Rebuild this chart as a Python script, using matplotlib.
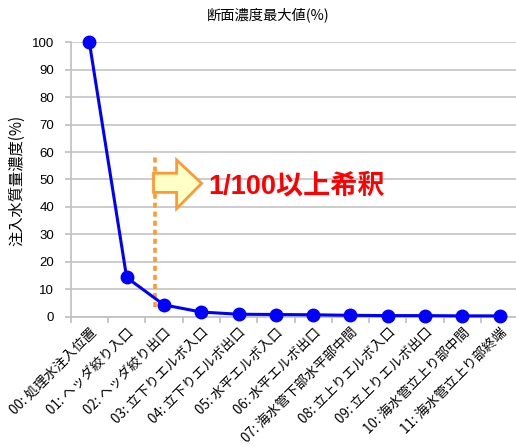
import matplotlib
matplotlib.use("Agg")
import matplotlib.pyplot as plt
from matplotlib.patches import Polygon
from matplotlib.ticker import FixedLocator

plt.rcParams['font.family'] = ['Noto Sans CJK JP', 'DejaVu Sans']

categories = ["00: 処理水注入位置", "01: ヘッダ絞り入口", "02: ヘッダ絞り出口",
              "03: 立下りエルボ入口", "04: 立下りエルボ出口", "05: 水平エルボ入口",
              "06: 水平エルボ出口", "07: 海水管下部水平部中間", "08: 立上りエルボ入口",
              "09: 立上りエルボ出口", "10: 海水管立上り部中間", "11: 海水管立上り部終端"]
values = [100, 14.3, 4.3, 1.7, 0.9, 0.8, 0.7, 0.5, 0.4, 0.4, 0.3, 0.3]
yticks = [0, 10, 20, 30, 40, 50, 60, 70, 80, 90, 100]
title = "断面濃度最大値(%)"
ylabel = "注入水質量濃度(%)"
note = "1/100以上希釈"

W, H = 516, 446
fig = plt.figure(figsize=(W/100, H/100), dpi=100)
left, bottom, top = 70.7, 316.7, 42.3
ax = fig.add_axes([left/W, (H-bottom)/H, (W-left)/W, (bottom-top)/H])

x = list(range(len(values)))
ax.plot(x, values, color='#0000FF', lw=2.2, marker='o', markersize=9,
        clip_on=False, zorder=5)

ax.set_xlim(-0.5, -0.5 + (W-left)/37.3)
ax.set_ylim(0, 100)
ax.set_yticks(yticks)
ax.set_yticklabels([str(v) for v in yticks], fontsize=9.5, family=['Liberation Sans', 'DejaVu Sans'])
ax.grid(axis='y', color='#C8C8C8', lw=1.3)
ax.set_axisbelow(True)

ax.set_xticks(x)
ax.set_xticklabels(categories, rotation=45, ha='right', rotation_mode='anchor', fontsize=9.7)
ax.xaxis.set_minor_locator(FixedLocator([i - 0.5 for i in range(len(values) + 1)]))
ax.tick_params(axis='x', which='major', length=0, pad=6)
ax.tick_params(axis='x', which='minor', length=4, color='#BFBFBF', width=1.2)
ax.tick_params(axis='y', length=4, color='#BFBFBF', width=1.2, pad=8)

for s in ['top', 'right']:
    ax.spines[s].set_visible(False)
for s in ['left', 'bottom']:
    ax.spines[s].set_color('#BFBFBF')
    ax.spines[s].set_linewidth(1.2)

# orange dotted vertical line
ax.plot([1.75, 1.75], [3.6, 58.8], color='#FF9933', lw=2.6, dashes=(1.4, 1.1),
        zorder=4)

# block arrow
arrow = [(1.72, 52.3), (2.34, 52.3), (2.34, 57.1), (3.01, 48.6),
         (2.34, 39.4), (2.34, 45.3), (1.72, 45.3)]
ax.add_patch(Polygon(arrow, closed=True, facecolor='#FFFFC8', edgecolor='#FF9933',
                     lw=2, zorder=6))

ax.text(3.18, 47.3, note, color='#FF0000', fontsize=19.5, fontweight='bold',
        va='center', ha='left', family=['Liberation Sans', 'Noto Sans CJK JP'], zorder=7)

fig.text(268/W, 1 - 15/H, title, ha='center', va='center', fontsize=10.3)
fig.text(17/W, 1 - 180/H, ylabel, ha='center', va='center', rotation=90, fontsize=11)

fig.savefig('out.png', dpi=100)
